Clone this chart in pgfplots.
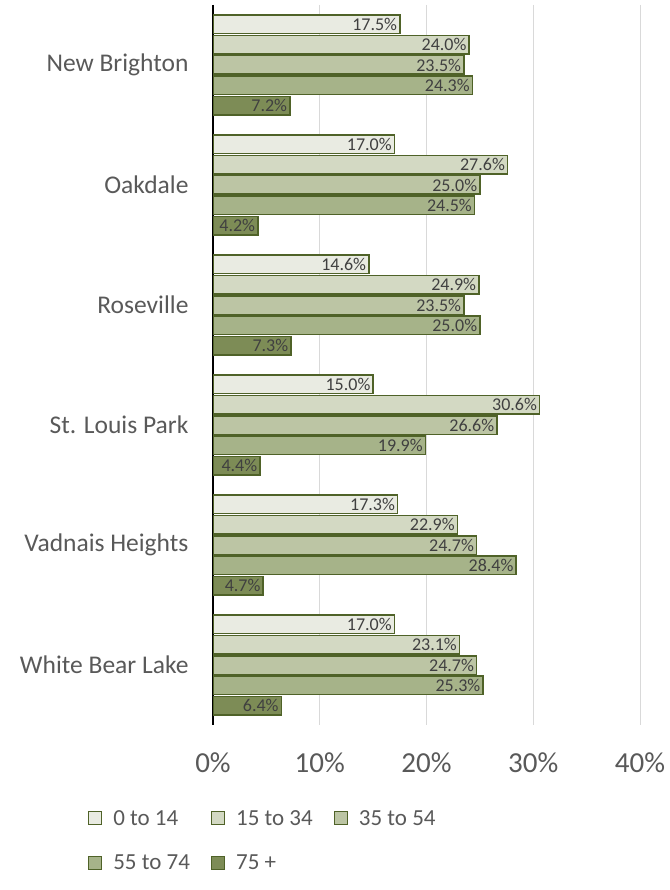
\documentclass[border=0pt]{standalone}
\usepackage{fontspec}
\setmainfont{Carlito}
\usepackage{pgfplots}
\pgfplotsset{compat=1.18}
\definecolor{txt}{HTML}{595959}
\definecolor{lbl}{HTML}{404040}
\definecolor{edge}{HTML}{4F6228}
\definecolor{c1}{HTML}{E9EBE2}
\definecolor{c2}{HTML}{D3D9C3}
\definecolor{c3}{HTML}{BCC5A4}
\definecolor{c4}{HTML}{A6B389}
\definecolor{c5}{HTML}{7D8C56}
\newcommand{\lf}{\fontsize{23}{23}\selectfont}
\begin{document}
\begin{tikzpicture}[x=1pt,y=1pt]
\useasboundingbox (0,0) rectangle (669,890);
\begin{axis}[
  at={(213pt,165pt)}, anchor=south west,
  width=427pt, height=720pt, scale only axis,
  xbar, bar width=18.5pt,
  xmin=0, xmax=40, ymin=-0.5, ymax=5.5, y dir=reverse,
  ytick={0,...,5},
  yticklabels={New Brighton,Oakdale,Roseville,St. Louis Park,Vadnais Heights,White Bear Lake},
  xtick={0,10,20,30,40},
  xticklabel={\pgfmathprintnumber{\tick}\%},
  /pgf/number format/assume math mode=true,
  major tick length=0pt,
  xmajorgrids, grid style={draw=black!15, line width=1pt},
  axis x line*=bottom, x axis line style={draw=none},
  axis y line*=left, y axis line style={-, black, line width=1.8pt},
  xticklabel style={font=\fontsize{29}{29}\selectfont, text=txt, anchor=north, yshift=-24pt},
  yticklabel style={font=\fontsize{25.5}{25.5}\selectfont, text=txt, anchor=east, xshift=-21pt},
  every axis plot/.append style={draw=edge, line width=1.5pt},
  nodes near coords={\pgfmathprintnumber[fixed,fixed zerofill,precision=1]{\pgfplotspointmeta}\%},
  nodes near coords align={horizontal},
  nodes near coords style={anchor=east, font=\fontsize{18}{18}\selectfont, text=lbl, inner sep=2pt},
  legend columns=3, legend cell align=left,
  legend style={at={(axis description cs:-0.293,-0.118)}, anchor=north west, draw=none, fill=none,
    text=txt, inner sep=0pt, row sep=28pt, nodes={inner sep=0pt},
    /tikz/every odd column/.append style={column sep=11pt},
    /tikz/every even column/.append style={column sep=21pt}},
  legend image code/.code={\draw[#1, line width=1.2pt] (0pt,-6.5pt) rectangle (13pt,6.5pt);},
]
\addplot[fill=c1, bar shift=40.8pt] coordinates {(17.5,0) (17.0,1) (14.6,2) (15.0,3) (17.3,4) (17.0,5)};
\addplot[fill=c2, bar shift=20.4pt] coordinates {(24.0,0) (27.6,1) (24.9,2) (30.6,3) (22.9,4) (23.1,5)};
\addplot[fill=c3, bar shift=0pt] coordinates {(23.5,0) (25.0,1) (23.5,2) (26.6,3) (24.7,4) (24.7,5)};
\addplot[fill=c4, bar shift=-20.4pt] coordinates {(24.3,0) (24.5,1) (25.0,2) (19.9,3) (28.4,4) (25.3,5)};
\addplot[fill=c5, bar shift=-40.8pt] coordinates {(7.2,0) (4.2,1) (7.3,2) (4.4,3) (4.7,4) (6.4,5)};
\legend{\lf 0 to 14,\lf 15 to 34,\lf 35 to 54,\lf 55 to 74,\lf 75 +}
\end{axis}
\end{tikzpicture}
\end{document}
